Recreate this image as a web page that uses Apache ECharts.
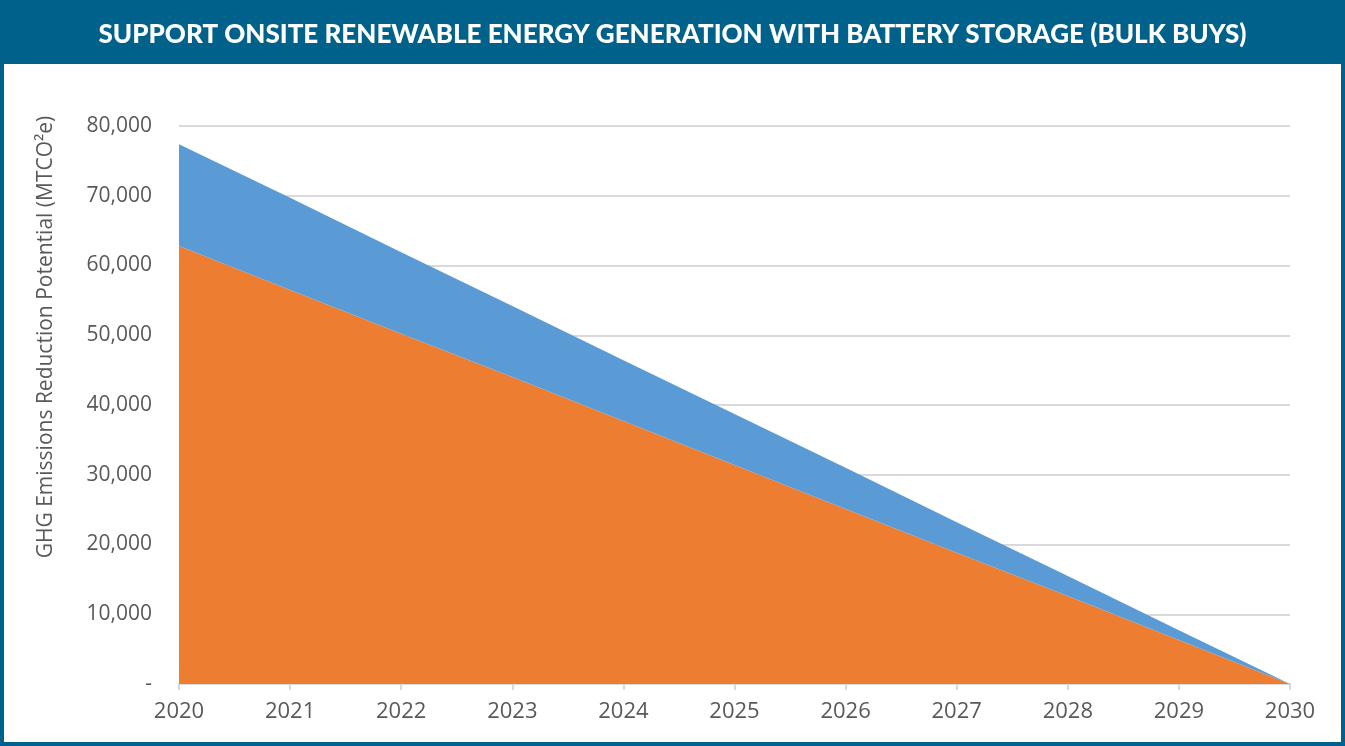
<!DOCTYPE html>
<html>
<head>
<meta charset="utf-8">
<script src="https://cdn.jsdelivr.net/npm/echarts@6/dist/echarts.min.js"></script>
<style>
  html, body { margin: 0; padding: 0; background: #fff; }
  #chart { width: 1345px; height: 746px; }
</style>
</head>
<body>
<div id="chart"></div>
<script>
// years on the x axis
const years = ['2020', '2021', '2022', '2023', '2024', '2025', '2026', '2027', '2028', '2029', '2030']
// bottom layer (orange)
const onsiteRenewable = [62800, 56500, 50200, 44000, 37700, 31400, 25100, 18800, 12600, 6300, 0]
// top layer (blue), stacked on the orange one
const batteryStorage = [14600, 13200, 11700, 10200, 8700, 7300, 5900, 4400, 2900, 1400, 0]

const titleText = 'SUPPORT ONSITE RENEWABLE ENERGY GENERATION WITH BATTERY STORAGE (BULK BUYS)'
const frameColor = '#00628B'
const labelColor = '#595959'

const chart = echarts.init(document.getElementById('chart'))
chart.setOption({
  animation: false,
  backgroundColor: '#fff',
  graphic: [
    // title bar
    {
      type: 'rect',
      shape: { x: 0, y: 0, width: 1345, height: 64 },
      style: { fill: frameColor },
      z: 0
    },
    // outer frame
    {
      type: 'rect',
      shape: { x: 2, y: 2, width: 1341, height: 742 },
      style: { fill: null, stroke: frameColor, lineWidth: 4 },
      z: 0
    }
  ],
  title: {
    text: titleText,
    left: 'center',
    top: 17,
    textStyle: {
      fontFamily: 'Lato',
      fontWeight: 900,
      fontSize: 26,
      color: '#fff'
    }
  },
  grid: { left: 179, right: 55, top: 126, bottom: 62 },
  xAxis: {
    type: 'category',
    data: years,
    boundaryGap: false,
    axisLine: { lineStyle: { color: '#d9d9d9', width: 2 } },
    axisTick: { show: true, length: 6, lineStyle: { color: '#d9d9d9', width: 2 } },
    axisLabel: {
      color: labelColor,
      fontFamily: 'Open Sans',
      fontSize: 22,
      margin: 17
    },
    splitLine: { show: false }
  },
  yAxis: {
    type: 'value',
    min: 0,
    max: 80000,
    interval: 10000,
    name: 'GHG Emissions Reduction Potential (MTCO²e)',
    nameLocation: 'middle',
    nameGap: 122,
    nameTextStyle: {
      color: labelColor,
      fontFamily: 'Open Sans',
      fontSize: 21,
      padding: [0, 0, 0, 136]
    },
    axisLine: { show: false },
    axisTick: { show: false },
    axisLabel: {
      color: labelColor,
      fontFamily: 'Open Sans',
      fontSize: 21,
      margin: 27,
      formatter: v => v === 0 ? '-' : v.toLocaleString('en-US')
    },
    splitLine: { lineStyle: { color: '#d9d9d9', width: 2 } }
  },
  series: [
    {
      name: 'Onsite renewable generation',
      type: 'line',
      stack: 'total',
      data: onsiteRenewable,
      symbol: 'none',
      lineStyle: { width: 0 },
      areaStyle: { color: '#ED7D31', opacity: 1 },
      z: 3
    },
    {
      name: 'Battery storage',
      type: 'line',
      stack: 'total',
      data: batteryStorage,
      symbol: 'none',
      lineStyle: { width: 0 },
      areaStyle: { color: '#5B9BD5', opacity: 1 },
      z: 3
    }
  ]
})
</script>
</body>
</html>
